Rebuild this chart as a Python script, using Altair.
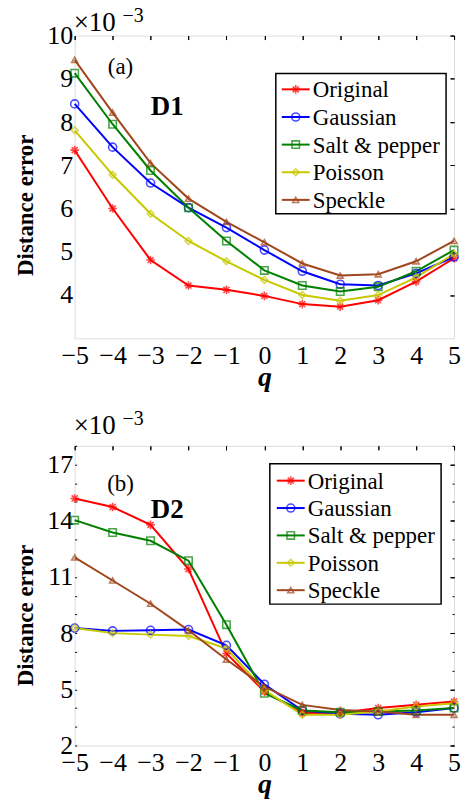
import altair as alt
import pandas as pd

q = [-5, -4, -3, -2, -1, 0, 1, 2, 3, 4, 5]
series = ["Original", "Gaussian", "Salt & pepper", "Poisson", "Speckle"]
colors = ["#FF0000", "#0000FF", "#008000", "#C8C800", "#A0461E"]
asterisk = "M-1,0L1,0M0,-1L0,1M-0.7,-0.7L0.7,0.7M-0.7,0.7L0.7,-0.7"
shapes = [asterisk, "circle", "square", "diamond", "triangle-up"]
sizes = [75, 36, 28, 40, 42]

# Panel (a): D1 (x 1e-3)
d1_original = [7.35, 6.00, 4.81, 4.22, 4.12, 3.98, 3.79, 3.73, 3.88, 4.31, 4.85]
d1_gaussian = [8.42, 7.42, 6.59, 6.02, 5.56, 5.04, 4.55, 4.25, 4.22, 4.50, 4.88]
d1_salt = [9.13, 7.95, 6.88, 6.02, 5.25, 4.57, 4.22, 4.08, 4.19, 4.55, 5.04]
d1_poisson = [7.81, 6.78, 5.88, 5.25, 4.78, 4.35, 4.00, 3.87, 4.00, 4.41, 4.95]
d1_speckle = [9.44, 8.22, 7.05, 6.23, 5.69, 5.22, 4.73, 4.45, 4.48, 4.78, 5.25]

# Panel (b): D2 (x 1e-3)
d2_original = [15.19, 14.73, 13.78, 11.42, 6.91, 4.88, 3.73, 3.73, 4.00, 4.17, 4.35]
d2_gaussian = [8.27, 8.12, 8.15, 8.19, 7.35, 5.27, 3.87, 3.69, 3.64, 3.78, 4.00]
d2_salt = [14.03, 13.37, 12.93, 11.87, 8.45, 4.79, 3.87, 3.78, 3.81, 3.87, 4.00]
d2_poisson = [8.27, 8.00, 7.92, 7.85, 7.18, 4.96, 3.64, 3.64, 3.81, 4.08, 4.26]
d2_speckle = [12.04, 10.81, 9.57, 8.15, 6.59, 5.14, 4.17, 3.90, 3.81, 3.64, 3.64]

d1_ticks = [4, 5, 6, 7, 8, 9, 10]
d2_ticks = [2, 5, 8, 11, 14, 17]
d2_minor = list(range(2, 19))

FONT = "Liberation Serif, Times New Roman, Times, serif"
W = 381
LW = 2.0


def long_df(cols):
    rows = []
    for name, vals in zip(series, cols):
        for qq, v in zip(q, vals):
            rows.append({"q": qq, "value": v, "series": name})
    return pd.DataFrame(rows)


color_scale = alt.Scale(domain=series, range=colors)
shape_scale = alt.Scale(domain=series, range=shapes)
size_scale = alt.Scale(domain=series, range=sizes)


def panel(cols, ydomain, yticks, minor, H, tag, name, tag_pos, name_pos, exp_y,
          leg, frame):
    df = long_df(cols)
    xs = alt.Scale(domain=[-5, 5], nice=False, zero=False)
    ys = alt.Scale(domain=ydomain, nice=False, zero=False)

    def xenc(axis):
        return alt.X("q:Q", scale=xs, axis=axis)

    def yenc(axis):
        return alt.Y("value:Q", scale=ys, axis=axis)

    lines = alt.Chart(df).mark_line(strokeWidth=LW, clip=False).encode(
        x=xenc(alt.Axis(values=q, ticks=False, domain=False, grid=False,
                        labelFont=FONT, labelFontSize=26, labelColor="black",
                        labelPadding=4, labelFlush=False, labelOverlap=False,
                        title="q", titleFont=FONT, titleFontSize=28,
                        titleFontStyle="italic", titleFontWeight="bold",
                        titleColor="black", titleBaseline="alphabetic",
                        titleY=47, titleX=W / 2)),
        y=yenc(alt.Axis(values=yticks, ticks=False, domain=False, grid=False,
                        labelFont=FONT, labelFontSize=26, labelColor="black",
                        labelPadding=2, labelFlush=False, labelOverlap=False,
                        title="Distance error", titleFont=FONT,
                        titleFontSize=23, titleFontWeight="bold",
                        titleColor="black", titleX=-49, titleY=170,
                        titleBaseline="middle", titleAngle=-90)),
        color=alt.Color("series:N", scale=color_scale, legend=None),
        detail="series:N",
    )
    points = alt.Chart(df).mark_point(strokeWidth=1.6, filled=False).encode(
        x=xenc(alt.Axis(values=q, labels=False, domain=False, grid=False,
                        tickSize=4, offset=-4, tickColor="black", title=None)),
        y=yenc(alt.Axis(values=yticks, labels=False, domain=False, grid=False,
                        tickSize=4, offset=-4, tickColor="black", title=None)),
        color=alt.Color("series:N", scale=color_scale, legend=None),
        shape=alt.Shape("series:N", scale=shape_scale, legend=None),
        size=alt.Size("series:N", scale=size_scale, legend=None),
    )
    mirror = alt.Chart(df).mark_line(opacity=0).encode(
        x=xenc(alt.Axis(orient="top", values=q, labels=False, domain=False,
                        grid=False, tickSize=4, offset=-4, tickColor="black",
                        title=None)),
        y=yenc(alt.Axis(orient="right", values=yticks, labels=False,
                        domain=False, grid=False, tickSize=4, offset=-4,
                        tickColor="black", title=None)),
        detail="series:N",
    )
    layers = [lines, points, mirror]
    if minor:
        for orient in ["left", "right"]:
            layers.append(alt.Chart(df).mark_line(opacity=0).encode(
                x=xenc(None),
                y=yenc(alt.Axis(orient=orient, values=minor, labels=False,
                                domain=False, grid=False, tickSize=2,
                                offset=-2, tickColor="black", title=None)),
                detail="series:N",
            ))

    one = pd.DataFrame({"k": [0]})
    # invisible frame fixing the outer bounds of the figure
    fx0, fy0, fx1, fy1 = frame
    bounds = alt.Chart(one).mark_rect(opacity=0).encode(
        x=alt.value(fx0), x2=alt.value(fx1), y=alt.value(fy0),
        y2=alt.value(fy1))
    exp_main = alt.Chart(one).mark_text(
        font=FONT, fontSize=27, align="left", baseline="alphabetic",
        color="black").encode(x=alt.value(-1), y=alt.value(exp_y),
                              text=alt.value("\u00d710"))
    exp_sup = alt.Chart(one).mark_text(
        font=FONT, fontSize=20, align="left", baseline="alphabetic",
        color="black").encode(x=alt.value(48), y=alt.value(exp_y - 9),
                              text=alt.value("\u22123"))
    tag_t = alt.Chart(one).mark_text(
        font=FONT, fontSize=23, align="center", baseline="alphabetic",
        color="black").encode(x=alt.value(tag_pos[0]), y=alt.value(tag_pos[1]),
                              text=alt.value(tag))
    name_t = alt.Chart(one).mark_text(
        font=FONT, fontSize=27, fontWeight="bold", align="center",
        baseline="alphabetic", color="black").encode(
        x=alt.value(name_pos[0]), y=alt.value(name_pos[1]),
        text=alt.value(name))

    # legend
    lx0, lx1, ly0, ly1, ey0, ey1, sx0, sx1, tx = leg
    ldf = pd.DataFrame({"series": series})
    ly = alt.Y("series:N", scale=alt.Scale(type="point", domain=series,
                                           range=[ey0, ey1], padding=0),
               axis=None)
    box = alt.Chart(one).mark_rect(fill="white", stroke="black",
                                   strokeWidth=1.5).encode(
        x=alt.value(lx0), x2=alt.value(lx1), y=alt.value(ly0),
        y2=alt.value(ly1))
    lrule = alt.Chart(ldf).mark_rule(strokeWidth=LW).encode(
        x=alt.value(sx0), x2=alt.value(sx1), y=ly,
        color=alt.Color("series:N", scale=color_scale, legend=None))
    lpt = alt.Chart(ldf).mark_point(strokeWidth=1.6, filled=False).encode(
        x=alt.value((sx0 + sx1) / 2), y=ly,
        color=alt.Color("series:N", scale=color_scale, legend=None),
        shape=alt.Shape("series:N", scale=shape_scale, legend=None),
        size=alt.Size("series:N", scale=size_scale, legend=None))
    ltxt = alt.Chart(ldf).mark_text(font=FONT, fontSize=23, align="left",
                                    baseline="middle", color="black",
                                    dy=1).encode(
        x=alt.value(tx), y=ly, text="series:N")

    layers += [bounds, exp_main, exp_sup, tag_t, name_t, box, lrule, lpt, ltxt]
    return alt.layer(*layers).resolve_scale(y="independent").resolve_axis(
        x="independent", y="independent").properties(width=W, height=H)


top = panel([d1_original, d1_gaussian, d1_salt, d1_poisson, d1_speckle],
            [3, 10], d1_ticks, None, 304, "(a)", "D1", (46, 39), (93, 80), -5,
            (202, 373, 38, 179, 54, 165, 208, 236, 239),
            (-74, -33, W + 8, 304))
bottom = panel([d2_original, d2_gaussian, d2_salt, d2_poisson, d2_speckle],
               [2, 18], d2_ticks, d2_minor, 301, "(b)", "D2", (46, 45),
               (93, 73), -12, (196, 368, 18, 159, 35, 145, 203, 231, 234),
               (-74, 0, W + 8, 301 + 54))

chart = alt.vconcat(top, bottom, spacing=108, bounds="flush").properties(
    padding=0,
).configure_view(stroke="black", strokeWidth=1.5).configure(
    background="white")

chart.save("out.html", embed_options={"renderer": "svg", "actions": False})
